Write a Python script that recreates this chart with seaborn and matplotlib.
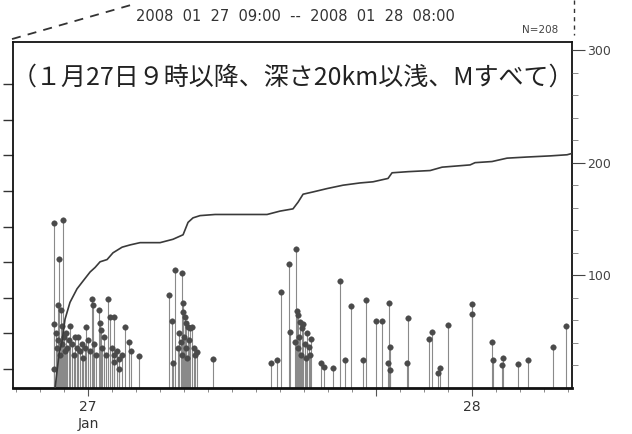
import numpy as np
import pandas as pd
import matplotlib
matplotlib.use("Agg")
import matplotlib.pyplot as plt
from matplotlib.lines import Line2D
import seaborn as sns

# ---- data (hours from 27 Jan 00:00, magnitude) ----
ev_hours = [
    -2.11, -1.58, -1.79, -2.11, -2.11, -1.71, -1.11, -0.79, -0.13, 0.23, 0.29, 0.71, 0.75,
    1.23, 1.38, 1.64, 1.92, 1.92, 2.31, 2.54, 3.21,
    -2.0, -1.95, -1.9, -1.85, -1.75, -1.65, -1.6, -1.5, -1.45, -1.35, -1.3, -1.2, -1.0,
    -0.9, -0.7, -0.6, -0.5, -0.4, -0.3, -0.2, 0.0, 0.1, 0.4, 0.5, 0.9, 1.0, 1.1, 1.5,
    1.8, 2.1, 2.7, 0.8, 1.6, 1.6,
    5.08, 5.23, 5.33, 5.44, 5.79, 5.89, 5.96, 6.06, 6.27, 6.38, 6.48, 6.83, 7.83,
    5.6, 5.7, 5.85, 6.0, 6.1, 6.2, 6.3, 6.6, 6.7, 5.95, 6.15,
    11.44, 11.79, 12.06, 12.58, 12.64, 12.94, 13.0, 13.04, 13.14, 13.27, 13.36, 13.46,
    13.81, 13.94, 14.56, 14.77, 15.33, 15.75, 16.06, 16.44, 17.21, 17.36,
    13.1, 13.2, 13.3, 13.55, 13.65, 13.7, 13.9,
    18.0, 18.36, 18.81, 18.88, 18.77, 18.88, 19.92, 19.98, 21.33, 21.48, 21.89, 22.0,
    22.48, 24.02, 24.02, 25.27, 25.29, 25.86, 25.92, 26.86, 27.48, 29.04, 29.88,
]
ev_mag = [
    2.05, 2.09, 1.54, 0.63, 0.0, 0.83, 0.60, 0.45, 0.59, 0.98, 0.90, 0.83, 0.65,
    0.98, 0.73, 0.73, 0.14, 0.0, 0.59, 0.38, 0.18,
    0.5, 0.3, 0.9, 0.4, 0.2, 0.6, 0.35, 0.45, 0.25, 0.5, 0.3, 0.4, 0.35,
    0.2, 0.3, 0.45, 0.25, 0.35, 0.15, 0.3, 0.4, 0.25, 0.35, 0.2, 0.3, 0.45, 0.2, 0.3,
    0.25, 0.2, 0.25, 0.55, 0.2, 0.1,
    1.04, 0.67, 0.08, 1.39, 0.38, 1.35, 0.93, 0.73, 0.59, 0.58, 0.59, 0.24, 0.14,
    0.3, 0.5, 0.2, 0.45, 0.3, 0.15, 0.4, 0.3, 0.2, 0.8, 0.65,
    0.08, 0.13, 1.08, 1.48, 0.52, 0.38, 1.69, 0.81, 0.76, 0.66, 0.57, 0.63,
    0.31, 0.42, 0.09, 0.03, 0.02, 1.23, 0.13, 0.88, 0.13, 0.97,
    0.3, 0.45, 0.2, 0.35, 0.15, 0.5, 0.2,
    0.68, 0.68, 0.92, 0.31, 0.09, -0.01, 0.08, 0.72, 0.42, 0.52, -0.05, 0.02,
    0.62, 0.91, 0.77, 0.38, 0.13, 0.06, 0.16, 0.07, 0.13, 0.31, 0.61,
]

# cumulative number of events
cum_hours = [-2.06, -1.94, -1.81, -1.63, -1.44, -1.13, -0.69, -0.31, 0.13, 0.44, 0.75,
             1.19, 1.56, 2.13, 2.63, 3.25, 4.5, 5.31, 5.94, 6.25, 6.56, 7.0, 7.94,
             11.19, 12.0, 12.81, 13.13, 13.44, 14.06, 14.94, 15.94, 17.0, 17.81,
             18.75, 19.0, 20.0, 21.38, 22.13, 23.88, 24.19, 25.25, 25.56, 26.19,
             27.44, 28.88, 29.94, 30.2]
cum_counts = [0, 15, 30, 41, 61, 76, 88, 95, 103, 107, 112,
              114, 120, 125, 127, 129, 129, 132, 136, 147, 151, 153, 154,
              154, 157, 159, 165, 172, 174, 177, 180, 182, 183,
              186, 191, 192, 193, 196, 198, 200, 201, 202, 204,
              205, 206, 207, 208]

right_ticks = [100, 200, 300]
day_ticks = [0, 24]
day_labels = ["27\nJan", "28"]
title_text = "（１月27日９時以降、深さ20km以浅、Mすべて）"
period_text = "2008  01  27  09:00  --  2008  01  28  08:00"
n_text = "N=208"

# ---- plotting ----
sns.set_theme(style="white")
plt.rcParams['font.family'] = ['Noto Sans CJK JP', 'DejaVu Sans']

fig = plt.figure(figsize=(6.32, 4.34), dpi=100)
ax = fig.add_axes([0.0206, 0.106, 0.8845, 0.797])

m_bottom = -0.267
df = pd.DataFrame({"h": ev_hours, "M": ev_mag})
ax.vlines(df["h"], m_bottom, df["M"], color="#8a8a8a", lw=0.8, zorder=2)
sns.scatterplot(data=df, x="h", y="M", ax=ax, color="#4a4a4a", s=16,
                edgecolor="#4a4a4a", linewidth=0.3, zorder=3, legend=False)

ax.set_xlim(-4.69, 30.25)
ax.set_ylim(m_bottom, 4.59)
ax.set_xlabel("")
ax.set_ylabel("")
ax.set_yticks(np.arange(0, 4.01, 0.5))
ax.set_yticklabels([])
ax.tick_params(axis="y", left=True, direction="out", length=7, width=1, color="#333333")
ax.set_xticks(day_ticks + [18])
ax.set_xticklabels(day_labels + [""], fontsize=10, color="#333333", family="DejaVu Sans")
ax.set_xticks(np.arange(-4.5, 30.3, 1.5), minor=True)
ax.tick_params(axis="x", which="major", bottom=True, direction="out", length=6, width=0.8,
               color="#555555", pad=3)
ax.tick_params(axis="x", which="minor", bottom=True, direction="out", length=3, width=0.6,
               color="#777777")
for sp in ax.spines.values():
    sp.set_color("#111111")
    sp.set_linewidth(1.3)
ax.spines["bottom"].set_linewidth(2.0)

ax2 = ax.twinx()
sns.lineplot(x=cum_hours, y=cum_counts, ax=ax2, color="#3a3a3a", lw=1.2, zorder=4)
ax2.set_ylim(0, 307)
ax2.set_yticks(right_ticks)
ax2.set_yticklabels([str(t) for t in right_ticks], fontsize=9, color="#444444",
                    family="DejaVu Sans")
ax2.set_yticks(np.arange(20, 301, 20), minor=True)
ax2.tick_params(axis="y", which="major", right=True, direction="out", length=9, width=0.8,
                color="#444444", pad=2)
ax2.tick_params(axis="y", which="minor", right=True, direction="out", length=4, width=0.6,
                color="#777777")
for sp in ax2.spines.values():
    sp.set_visible(False)

ax.text(0.5, 0.897, title_text, transform=ax.transAxes, ha="center", va="center",
        fontsize=18, color="#222222")

fig.text(0.467, 0.962, period_text, ha="center", va="center", fontsize=10.5,
         color="#333333", family="DejaVu Sans")
fig.text(0.883, 0.932, n_text, ha="right", va="center", fontsize=7.5,
         color="#444444", family="DejaVu Sans")
fig.add_artist(Line2D([0.019, 0.206], [0.910, 0.988], transform=fig.transFigure,
                      color="#333333", lw=1.3, linestyle=(0, (5, 4))))
fig.add_artist(Line2D([0.908, 0.908], [1.0, 0.919], transform=fig.transFigure,
                      color="#333333", lw=1.0, linestyle=(0, (3, 3))))

fig.savefig("out.png", dpi=100)
